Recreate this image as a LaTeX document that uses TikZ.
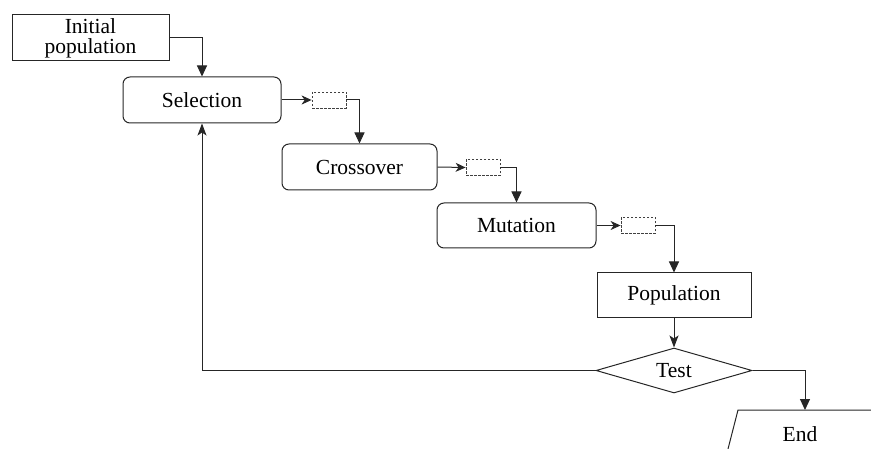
\documentclass[tikz,border=0pt]{standalone}
\usepackage{fontspec}
\setmainfont{Liberation Serif}
\usetikzlibrary{arrows.meta,shapes.geometric}
\begin{document}
\begin{tikzpicture}[x=1pt,y=-1pt,
  every node/.style={font=\fontsize{21.5}{22}\selectfont, inner sep=0pt},
  ln/.style={draw=black!85, line width=1pt},
  box/.style={ln, rectangle},
  rbox/.style={ln, rectangle, rounded corners=7pt},
  dbox/.style={draw=black!75, line width=0.8pt, dashed, dash pattern=on 2.5pt off 1.5pt, minimum width=34pt, minimum height=16pt},
  arr/.style={ln, -{Triangle[width=10pt,length=11pt]}},
  barr/.style={ln, -{Stealth[width=9pt,length=12pt,inset=3pt]}},
  sarr/.style={ln, -{Stealth[width=9pt,length=10pt,inset=3pt]}}]
\useasboundingbox (0,0) rectangle (871,449);
\node[box, minimum width=157pt, minimum height=46pt, align=center] (init) at (90.5,38) {Initial\\[-2pt]population};
\node[rbox, minimum width=158pt, minimum height=46pt] (sel) at (202,100) {Selection};
\node[dbox] (d1) at (329,100) {};
\node[rbox, minimum width=155pt, minimum height=46pt] (cross) at (359.5,167) {Crossover};
\node[dbox] (d2) at (483,167.5) {};
\node[rbox, minimum width=159pt, minimum height=45pt] (mut) at (516.5,225.5) {Mutation};
\node[dbox] (d3) at (638,225.5) {};
\node[box, minimum width=154pt, minimum height=45pt] (pop) at (674,295.5) {Population};
\node[ln, diamond, aspect=3.4, minimum width=156pt, minimum height=45pt] (test) at (674,370.5) {Test};
\coordinate (endtop) at (805,410);
\node (endl) at (800,434) {End};
\draw[ln] (871,410) -- (738,410) -- (728,449);
\draw[arr] (init.east) -| (sel.north);
\draw[sarr] (sel.east) -- (d1.west);
\draw[arr] (d1.east) -| (cross.north);
\draw[sarr] (cross.east) -- (d2.west);
\draw[arr] (d2.east) -| (mut.north);
\draw[sarr] (mut.east) -- (d3.west);
\draw[arr] (d3.east) -| (pop.north);
\draw[barr] (pop.south) -- (test.north);
\draw[barr] (test.west) -| (sel.south);
\draw[arr] (test.east) -| (endtop);
\end{tikzpicture}
\end{document}
